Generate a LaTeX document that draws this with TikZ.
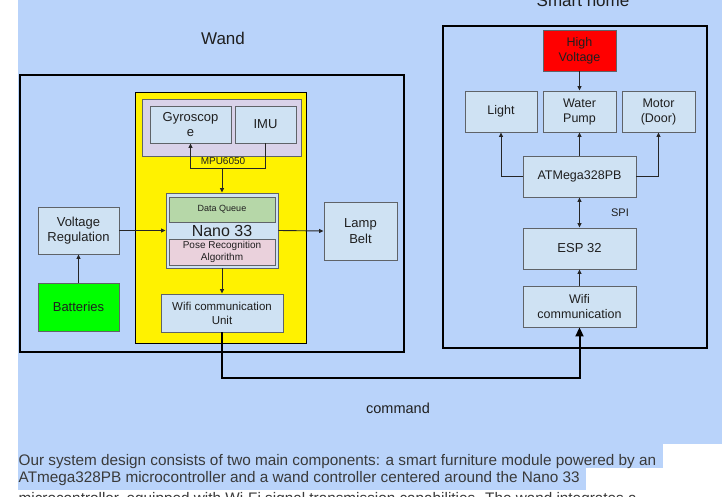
\documentclass[tikz,border=0pt]{standalone}
\usepackage{fontspec}
\setmainfont{Liberation Sans}
\usetikzlibrary{arrows.meta}
\definecolor{bgblue}{HTML}{B9D3FA}
\definecolor{boxfill}{HTML}{CFE2F3}
\definecolor{boxline}{HTML}{5F6368}
\definecolor{mpufill}{HTML}{D9D2E9}
\definecolor{dqfill}{HTML}{B6D7A8}
\definecolor{posefill}{HTML}{EAD1DC}
\definecolor{txt}{HTML}{1F1F1F}
\definecolor{ptxt}{HTML}{3A3A3A}
\tikzset{
  box/.style={draw=boxline, fill=boxfill, line width=0.9pt, align=center, inner sep=0pt, text=txt},
  bigframe/.style={draw=black, line width=2.6pt, inner sep=0pt},
  conn/.style={draw=black!85, line width=0.9pt},
  tip/.style={-{Triangle[length=4.5pt,width=4pt]}},
  bigtip/.style={-{Triangle[length=9pt,width=8pt]}},
  fs/.style={font={\fontsize{#1}{#1}\selectfont\baselineskip=1.2\baselineskip}}
}
\begin{document}
\begin{tikzpicture}[x=1pt,y=-1pt]
\useasboundingbox (0,0) rectangle (722,497);
\clip (0,0) rectangle (722,497);
\fill[white] (0,0) rectangle (722,497);
\fill[bgblue] (18,0) rectangle (722,444);
\fill[bgblue] (18,444) rectangle (663,468);
\fill[bgblue] (18,468) rectangle (586,490);

% titles
\node[fs=17, text=txt] (wandtitle) at (223,38) {Wand};
\node[fs=17, text=txt] (hometitle) at (583,0.5) {Smart home};

% outer frames
\node[bigframe, minimum width=384pt, minimum height=277pt] (wand) at (212,213.5) {};
\node[bigframe, minimum width=264pt, minimum height=322pt] (home) at (575,187) {};

% wand internals
\node[draw=black, line width=0.9pt, fill=yellow, minimum width=171pt, minimum height=251pt] (yellowbox) at (220.5,217.5) {};
\node[draw=boxline, line width=0.9pt, fill=mpufill, minimum width=159pt, minimum height=57pt] (mpu) at (221.5,127.5) {};
\node[box, fs=13, minimum width=81pt, minimum height=37pt] (gyro) at (190.5,124.5) {Gyroscop\\e};
\node[box, fs=13, minimum width=61pt, minimum height=37pt] (imu) at (265.5,124.5) {IMU};
\node[fs=10, text=txt] (mpulabel) at (223,161.5) {MPU6050};
\node[box, minimum width=112pt, minimum height=75pt] (nano) at (222,230.5) {};
\node[box, fill=dqfill, fs=9, minimum width=106pt, minimum height=25pt] (dq) at (222,209.5) {Data Queue};
\node[fs=16, text=txt] (nanolabel) at (222,231) {Nano 33};
\node[box, fill=posefill, fs=10, minimum width=106pt, minimum height=26pt] (pose) at (222,252) {Pose Recognition\\Algorithm};
\node[box, fs=11.5, minimum width=122pt, minimum height=38pt] (wifiu) at (222,313) {Wifi communication\\Unit};
\node[box, fs=13, minimum width=81pt, minimum height=47pt] (vr) at (78.5,230.5) {Voltage\\Regulation};
\node[box, fill=green, fs=13, minimum width=81pt, minimum height=48pt] (bat) at (78.5,307) {Batteries};
\node[box, fs=13, minimum width=73pt, minimum height=58pt] (lamp) at (360.5,231) {Lamp\\Belt};

% smart home internals
\node[box, fill=red, fs=12.5, minimum width=73pt, minimum height=41pt] (hv) at (579.5,50.5) {High\\Voltage};
\node[box, fs=12.5, minimum width=72pt, minimum height=41pt] (light) at (501,111.5) {Light};
\node[box, fs=12.5, minimum width=73pt, minimum height=41pt] (water) at (579.5,111.5) {Water\\Pump};
\node[box, fs=12.5, minimum width=73pt, minimum height=41pt] (motor) at (658.5,111.5) {Motor\\(Door)};
\node[box, fs=12.5, minimum width=113pt, minimum height=41pt] (atm) at (579.5,176.5) {ATMega328PB};
\node[box, fs=13, minimum width=113pt, minimum height=41pt] (esp) at (579.5,248.5) {ESP 32};
\node[box, fs=12.5, minimum width=113pt, minimum height=41pt] (wific) at (579.5,306.5) {Wifi\\communication};
\node[fs=11, text=txt] (spi) at (620,213) {SPI};

% wand connectors
\coordinate (mj) at (222,168);
\draw[conn, tip] (mj) -| (gyro.south);
\draw[conn] (mj) -| (imu.south);
\draw[conn, tip] (mj) -- (nano.north);
\draw[conn, tip] (vr.east) -- (nano.west);
\draw[conn, tip] (nano.east) -- (lamp.west);
\draw[conn, tip] (bat.north) -- (vr.south);
\draw[conn, tip] (nano.south) -- (wifiu.north);

% smart home connectors
\draw[conn, tip] (hv.south) -- (water.north);
\draw[conn, tip] (atm.west) -| (light.south);
\draw[conn, tip] (atm.north) -- (water.south);
\draw[conn, tip] (atm.east) -| (motor.south);
\draw[conn, {Triangle[length=4.5pt,width=4pt]}-{Triangle[length=4.5pt,width=4pt]}] (atm.south) -- (esp.north);
\draw[conn, tip] (wific.north) -- (esp.south);

% command link
\coordinate (cmdcorner) at (222,378);
\draw[draw=black, line width=2pt, bigtip] (wifiu.south) -- (cmdcorner) -| (wific.south);
\node[fs=14.5, text=txt] (cmd) at (398,408) {command};

% paragraph
\node[anchor=base west, inner sep=0pt, fs=15.3, text=ptxt] (p1) at (18.5,465) {Our system design consists of two main components: a smart furniture module powered by an};
\node[anchor=base west, inner sep=0pt, fs=15.3, text=ptxt] (p2) at (18.5,482.7) {ATmega328PB microcontroller and a wand controller centered around the Nano 33};
\node[anchor=base west, inner sep=0pt, fs=15.3, text=ptxt] (p3) at (18.5,503.5) {microcontroller, equipped with Wi-Fi signal transmission capabilities. The wand integrates a};
\end{tikzpicture}
\end{document}
